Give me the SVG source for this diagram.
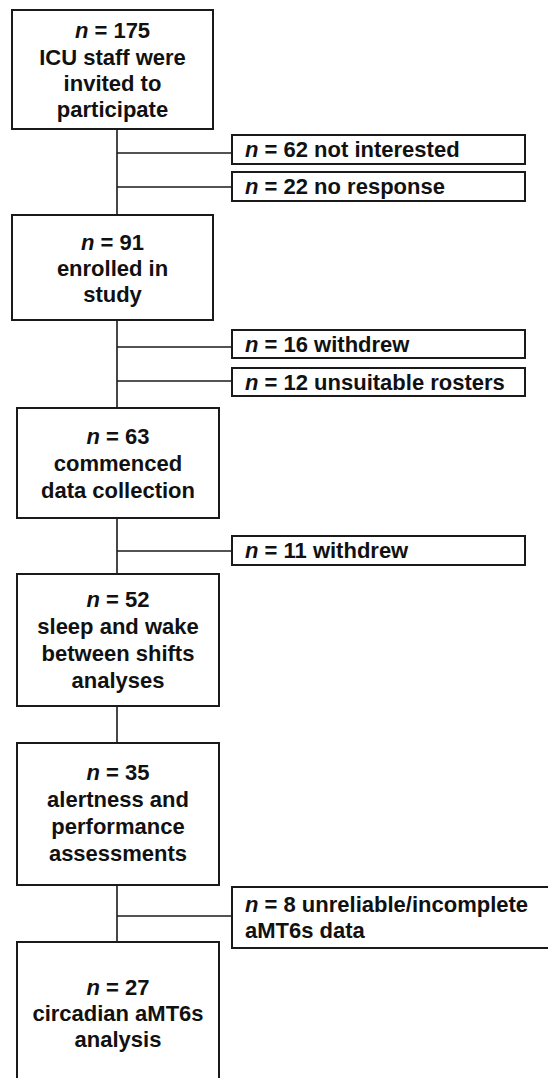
<svg xmlns="http://www.w3.org/2000/svg" width="548" height="1078" viewBox="0 0 548 1078">
<style>
rect{fill:#fff;stroke:#1a1a1a;stroke-width:2}
text{font-family:"Liberation Sans",Arial,sans-serif;font-weight:bold;font-size:22px;fill:#111}
.c{text-anchor:middle}
.i{font-style:italic}
#connectors line{stroke:#1a1a1a;stroke-width:1.6}
</style>
<rect x="0" y="0" width="548" height="1078" style="fill:#fff;stroke:none"/>
<g id="connectors">
<line x1="117" y1="129" x2="117" y2="215"/>
<line x1="117" y1="153" x2="232" y2="153"/>
<line x1="117" y1="187" x2="232" y2="187"/>
<line x1="117" y1="320" x2="117" y2="408"/>
<line x1="117" y1="347" x2="232" y2="347"/>
<line x1="117" y1="381" x2="232" y2="381"/>
<line x1="117" y1="518" x2="117" y2="574"/>
<line x1="117" y1="551" x2="232" y2="551"/>
<line x1="117" y1="706" x2="117" y2="743"/>
<line x1="117" y1="885" x2="117" y2="942"/>
<line x1="117" y1="916" x2="232" y2="916"/>
</g>
<g id="n1">
<rect x="12" y="10" width="201" height="119"/>
<text class="c" x="112.5" y="37.5"><tspan class="i">n</tspan> = 175</text>
<text class="c" x="112.5" y="64.5">ICU staff were</text>
<text class="c" x="112.5" y="91">invited to</text>
<text class="c" x="112.5" y="117">participate</text>
</g>
<g id="s1">
<rect x="232" y="135" width="293" height="29"/>
<text x="245" y="157"><tspan class="i">n</tspan> = 62 not interested</text>
</g>
<g id="s2">
<rect x="232" y="172" width="293" height="29"/>
<text x="245" y="193.5"><tspan class="i">n</tspan> = 22 no response</text>
</g>
<g id="n2">
<rect x="12" y="215" width="201" height="105"/>
<text class="c" x="112.5" y="250"><tspan class="i">n</tspan> = 91</text>
<text class="c" x="112.5" y="276">enrolled in</text>
<text class="c" x="112.5" y="302">study</text>
</g>
<g id="s3">
<rect x="232" y="330" width="293" height="28"/>
<text x="245" y="351.5"><tspan class="i">n</tspan> = 16 withdrew</text>
</g>
<g id="s4">
<rect x="232" y="368" width="293" height="28"/>
<text x="245" y="389.5"><tspan class="i">n</tspan> = 12 unsuitable rosters</text>
</g>
<g id="n3">
<rect x="17" y="408" width="202" height="110"/>
<text class="c" x="118" y="444"><tspan class="i">n</tspan> = 63</text>
<text class="c" x="118" y="471">commenced</text>
<text class="c" x="118" y="498">data collection</text>
</g>
<g id="s5">
<rect x="232" y="536" width="293" height="29"/>
<text x="245" y="558"><tspan class="i">n</tspan> = 11 withdrew</text>
</g>
<g id="n4">
<rect x="17" y="574" width="202" height="132"/>
<text class="c" x="118" y="606.5"><tspan class="i">n</tspan> = 52</text>
<text class="c" x="118" y="633.5">sleep and wake</text>
<text class="c" x="118" y="660.5">between shifts</text>
<text class="c" x="118" y="687.5">analyses</text>
</g>
<g id="n5">
<rect x="17" y="743" width="202" height="142"/>
<text class="c" x="118" y="780"><tspan class="i">n</tspan> = 35</text>
<text class="c" x="118" y="807">alertness and</text>
<text class="c" x="118" y="834">performance</text>
<text class="c" x="118" y="861">assessments</text>
</g>
<g id="s6">
<rect x="232" y="887" width="330" height="61"/>
<text x="245" y="912"><tspan class="i">n</tspan> = 8 unreliable/incomplete</text>
<text x="245" y="938">aMT6s data</text>
</g>
<g id="n6">
<rect x="17" y="942" width="202" height="150"/>
<text class="c" x="118" y="995"><tspan class="i">n</tspan> = 27</text>
<text class="c" x="118" y="1021">circadian aMT6s</text>
<text class="c" x="118" y="1047">analysis</text>
</g>
</svg>
